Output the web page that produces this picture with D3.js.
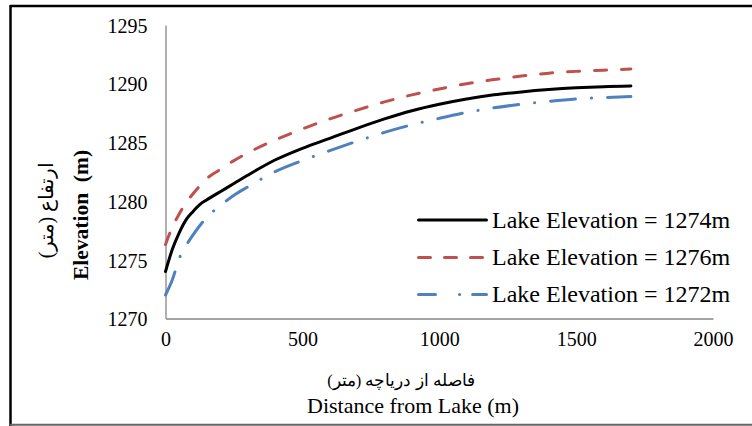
<!DOCTYPE html>
<html><head><meta charset="utf-8">
<script src="https://cdn.jsdelivr.net/npm/d3@7"></script>
<style>body{margin:0;background:#fff}svg{display:block}</style>
</head><body>
<script>
const distances = [0,25,50,75,100,125,150,200,250,300,400,500,600,700,800,900,1000,1100,1200,1300,1400,1500,1600,1700];
const elev1274 = [1274.0,1275.9,1277.3,1278.4,1279.1,1279.7,1280.1,1280.8,1281.5,1282.2,1283.5,1284.5,1285.35,1286.2,1287.0,1287.7,1288.25,1288.7,1289.05,1289.3,1289.5,1289.65,1289.75,1289.8];
const elev1276 = [1276.3,1277.8,1278.9,1279.9,1280.6,1281.3,1281.9,1282.7,1283.45,1284.1,1285.2,1286.15,1287.0,1287.75,1288.45,1289.05,1289.55,1290.0,1290.35,1290.65,1290.9,1291.05,1291.15,1291.25];
const elev1272 = [1272.0,1273.3,1275.1,1276.2,1277.1,1277.9,1278.6,1279.6,1280.5,1281.2,1282.5,1283.45,1284.3,1285.1,1285.85,1286.5,1287.05,1287.55,1287.95,1288.25,1288.5,1288.7,1288.82,1288.9];
const seriesNames = ["Lake Elevation = 1274m","Lake Elevation = 1276m","Lake Elevation = 1272m"];
const xTicks = [0,500,1000,1500,2000];
const yTicks = [1270,1275,1280,1285,1290,1295];
const xTitleFa = "فاصله از دریاچه (متر)";
const xTitleEn = "Distance from Lake (m)";
const yTitleFa = "ارتفاع (متر)";
const yTitleEn = "Elevation  (m)";

const W = 752, H = 426;
const svg = d3.select("body").append("svg").attr("width", W).attr("height", H);
const serif = "'Liberation Serif', Tinos, 'DejaVu Serif', serif";

// outer frame
svg.append("line").attr("x1",10).attr("x2",W).attr("y1",6).attr("y2",6).attr("stroke","#000").attr("stroke-width",2.5);
svg.append("line").attr("x1",10.5).attr("x2",10.5).attr("y1",5).attr("y2",H).attr("stroke","#000").attr("stroke-width",2.5);
svg.append("line").attr("x1",10).attr("x2",W).attr("y1",424.8).attr("y2",424.8).attr("stroke","#666").attr("stroke-width",2);

const x = d3.scaleLinear().domain([0,2000]).range([165.5,713]);
const y = d3.scaleLinear().domain([1270,1295]).range([318.5,25]);

// axes
const gx = svg.append("g").attr("transform","translate(0,318.5)")
  .call(d3.axisBottom(x).tickValues(xTicks).tickSize(0).tickPadding(13).tickFormat(d3.format("d")));
const gy = svg.append("g").attr("transform","translate(165.5,0)")
  .call(d3.axisLeft(y).tickValues(yTicks).tickSize(0).tickPadding(18).tickFormat(d3.format("d")));
[gx,gy].forEach(g=>{
  g.attr("font-family",null);
  g.select(".domain").attr("stroke","#868686").attr("stroke-width",1.3);
  g.selectAll("text").style("font-family",serif).attr("font-size",20).attr("fill","#000");
});
gy.selectAll("text").attr("dy","0.36em");
gx.selectAll("text").attr("dy","0.73em");

// lines
const line = d3.line().x(d=>x(d[0])).y(d=>y(d[1])).curve(d3.curveMonotoneX);
const styles = [
  {stroke:"#000000", dash:null, legDash:null},
  {stroke:"#C0504D", dash:"12,15", legDash:"12,14"},
  {stroke:"#4F81BD", dash:"25,16,0.1,16", legDash:"17,24,0.1,13,30"}
];
const data = [elev1274, elev1276, elev1272];
data.forEach((vals,i)=>{
  svg.append("path").datum(distances.map((d,j)=>[d,vals[j]]))
    .attr("d",line).attr("fill","none").attr("stroke",styles[i].stroke)
    .attr("stroke-width",3).attr("stroke-linecap","round")
    .attr("stroke-dasharray",styles[i].dash);
});

// legend
const legY = [220,257.5,294.5];
const legTextY = [228,265,302];
seriesNames.forEach((n,i)=>{
  svg.append("line").attr("x1",418.5).attr("x2",486.5).attr("y1",legY[i]).attr("y2",legY[i])
    .attr("stroke",styles[i].stroke).attr("stroke-width",3).attr("stroke-linecap","round")
    .attr("stroke-dasharray",styles[i].legDash);
  svg.append("text").attr("x",492).attr("y",legTextY[i]).text(n)
    .style("font-family",serif).attr("font-size",24).attr("fill","#000");
});

// axis titles
svg.append("text").attr("x",401).attr("y",386).text(xTitleFa)
  .attr("direction","rtl").attr("unicode-bidi","embed").attr("text-anchor","middle")
  .style("font-family",serif).attr("font-size",16.5).attr("fill","#000");
svg.append("text").attr("x",413).attr("y",413).text(xTitleEn).attr("text-anchor","middle")
  .style("font-family",serif).attr("font-size",22).attr("fill","#000");
svg.append("text").attr("transform","translate(88,215) rotate(-90)").text(yTitleEn)
  .attr("text-anchor","middle").style("white-space","pre").attr("font-weight","bold")
  .style("font-family",serif).attr("font-size",21.5).attr("fill","#000");
svg.append("text").attr("transform","translate(53,210) rotate(-90)").text(yTitleFa)
  .attr("direction","rtl").attr("unicode-bidi","embed").attr("text-anchor","middle")
  .style("font-family",serif).attr("font-size",20).attr("fill","#000");
</script>
</body></html>
